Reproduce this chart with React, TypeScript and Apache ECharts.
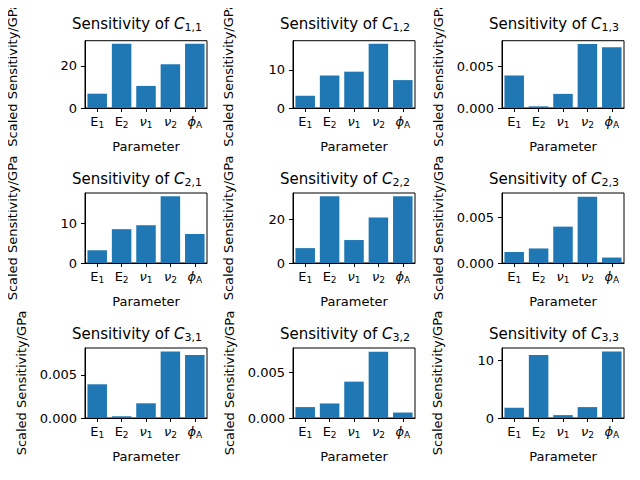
import { useEffect, useRef } from "react";
import * as echarts from "echarts";

const PARAMS = ["E1", "E2", "nu1", "nu2", "phiA"];
const C11 = [6.8, 30.5, 10.5, 20.8, 30.5];
const C12 = [3.2, 8.5, 9.5, 16.8, 7.3];
const C13 = [0.0039, 0.0002, 0.0017, 0.0077, 0.0073];
const C21 = [3.2, 8.5, 9.5, 16.8, 7.3];
const C22 = [6.8, 30.5, 10.5, 20.8, 30.5];
const C23 = [0.0012, 0.0016, 0.004, 0.0073, 0.0006];
const C31 = [0.0039, 0.0002, 0.0017, 0.0077, 0.0073];
const C32 = [0.0012, 0.0016, 0.004, 0.0073, 0.0006];
const C33 = [1.8, 11.0, 0.5, 1.9, 11.6];

const PANELS = [
  { idx: "1,1", data: C11, max: 32, interval: 20, dec: 0 },
  { idx: "1,2", data: C12, max: 17.6, interval: 10, dec: 0 },
  { idx: "1,3", data: C13, max: 0.0081, interval: 0.005, dec: 3 },
  { idx: "2,1", data: C21, max: 17.6, interval: 10, dec: 0 },
  { idx: "2,2", data: C22, max: 32, interval: 20, dec: 0 },
  { idx: "2,3", data: C23, max: 0.0077, interval: 0.005, dec: 3 },
  { idx: "3,1", data: C31, max: 0.0081, interval: 0.005, dec: 3 },
  { idx: "3,2", data: C32, max: 0.0077, interval: 0.005, dec: 3 },
  { idx: "3,3", data: C33, max: 12.2, interval: 10, dec: 0 },
];

const LEFTS = [85, 293, 502];
const TOPS = [38, 193, 348];
const W = 122;
const H = 70;
const FONT = "DejaVu Sans";

const LABEL_RICH: Record<string, string> = {
  E1: "{n|E}{s|1}",
  E2: "{n|E}{s|2}",
  nu1: "{i|ν}{s|1}",
  nu2: "{i|ν}{s|2}",
  phiA: "{i|ϕ}{s|A}",
};

export default function App() {
  const ref = useRef<HTMLDivElement | null>(null);

  useEffect(() => {
    if (!ref.current) return;
    const chart = echarts.init(ref.current, undefined, { renderer: "svg" });
    const grids: any[] = [];
    const xAxes: any[] = [];
    const yAxes: any[] = [];
    const series: any[] = [];
    const titles: any[] = [];
    PANELS.forEach((p, i) => {
      const r = Math.floor(i / 3);
      const c = i % 3;
      const left = LEFTS[c];
      const top = TOPS[r];
      grids.push({ left, top, width: W, height: H, show: true, borderColor: "#000", borderWidth: 1, backgroundColor: "transparent" });
      titles.push({
        text: `{t|Sensitivity of }{i|C}{s|${p.idx}}`,
        left: left + W / 2 - 74,
        top: top - 24,
        padding: 0,
        textStyle: {
          fontWeight: "normal",
          rich: {
            t: { fontFamily: FONT, fontSize: 15, fontWeight: "normal", color: "#000" },
            i: { fontFamily: FONT, fontSize: 15, fontWeight: "normal", fontStyle: "italic", color: "#000" },
            s: { fontFamily: FONT, fontSize: 11, fontWeight: "normal", color: "#000", verticalAlign: "bottom", padding: [8, 0, 0, 0] },
          },
        },
      });
      xAxes.push({
        type: "category",
        gridIndex: i,
        data: PARAMS,
        name: "Parameter",
        nameLocation: "middle",
        nameGap: 32,
        nameTextStyle: { fontFamily: FONT, fontSize: 13, color: "#000" },
        axisLine: { lineStyle: { color: "#000" } },
        axisTick: { show: true, alignWithLabel: true, length: 4, lineStyle: { color: "#000" } },
        axisLabel: {
          color: "#000",
          margin: 6,
          interval: 0,
          hideOverlap: false,
          formatter: (v: string) => LABEL_RICH[v],
          rich: {
            n: { fontFamily: FONT, fontSize: 13, color: "#000" },
            i: { fontFamily: FONT, fontSize: 13, fontStyle: "italic", color: "#000" },
            s: { fontFamily: FONT, fontSize: 9, color: "#000", verticalAlign: "bottom", padding: [6, 0, 0, 0] },
          },
        },
      });
      yAxes.push({
        type: "value",
        gridIndex: i,
        min: 0,
        max: p.max,
        interval: p.interval,
        name: "Scaled Sensitivity/GPa",
        nameLocation: "middle",
        nameGap: p.dec ? 57 : c === 0 ? 66 : 58,
        nameTextStyle: { fontFamily: FONT, fontSize: 13, color: "#000" },
        axisLine: { show: true, lineStyle: { color: "#000" } },
        axisTick: { show: true, length: 4, lineStyle: { color: "#000" } },
        splitLine: { show: false },
        axisLabel: {
          fontFamily: FONT,
          fontSize: 13,
          color: "#000",
          showMaxLabel: false,
          formatter: (v: number) => v.toFixed(p.dec),
        },
      });
      series.push({
        type: "bar",
        xAxisIndex: i,
        yAxisIndex: i,
        data: p.data,
        barCategoryGap: "20%",
        itemStyle: { color: "#1f77b4" },
      });
    });
    chart.setOption({
      animation: false,
      backgroundColor: "#fff",
      title: titles,
      grid: grids,
      xAxis: xAxes,
      yAxis: yAxes,
      series,
    });
    return () => chart.dispose();
  }, []);

  return <div ref={ref} style={{ width: 640, height: 480, margin: -8 }} />;
}
